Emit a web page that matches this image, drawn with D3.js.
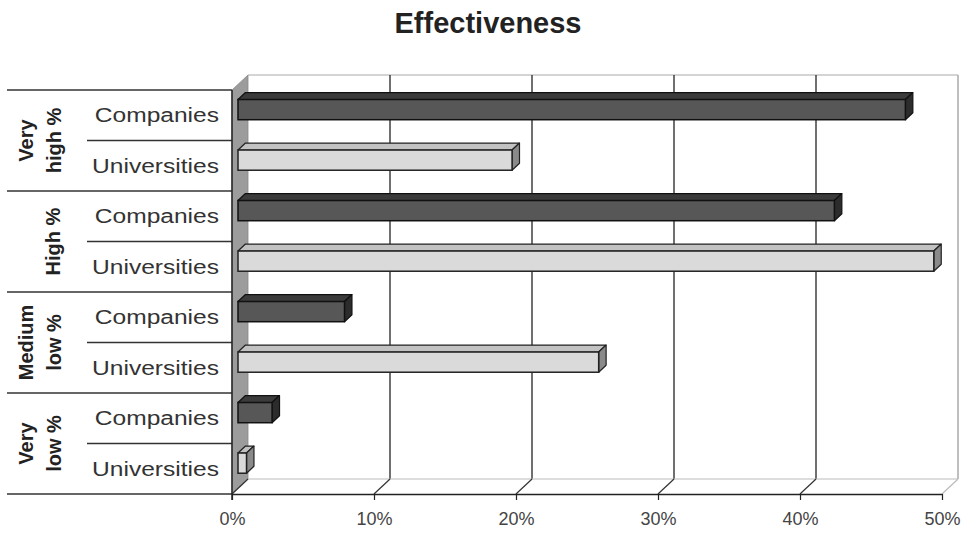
<!DOCTYPE html>
<html><head><meta charset="utf-8">
<script src="https://cdn.jsdelivr.net/npm/d3@7"></script>
<style>
html,body{margin:0;padding:0;background:#fff;}
svg{display:block;font-family:"Liberation Sans",Arial,sans-serif;}
</style></head>
<body>
<svg id="chart" width="965" height="533"></svg>
<script>
// ---- data ----
const title = "Effectiveness";
const groupLabels = [["Very", "high %"], ["High %"], ["Medium", "low %"], ["Very", "low %"]];
const subCategories = ["Companies", "Universities"];
const companies = [47, 42, 7.5, 2.4];
const universities = [19.3, 49, 25.4, 0.6];
const tickValues = [0, 10, 20, 30, 40, 50];
const tickLabels = ["0%", "10%", "20%", "30%", "40%", "50%"];

// ---- layout ----
const svg = d3.select("#chart");
const X0 = 232, X1 = 942, YT = 90, YB = 494;
const DX = 16, DY = -15;           // 3D depth offset
const F0 = 0.375, F1 = 0.84;       // bar depth position (fractions)

const x = d3.scaleLinear().domain([0, 50]).range([X0, X1]);
const rows = [];
groupLabels.forEach((g, gi) => subCategories.forEach((s, si) => rows.push({gi, si, sub: s,
  value: si === 0 ? companies[gi] : universities[gi]})));
const y = d3.scaleBand().domain(d3.range(rows.length)).range([YT, YB]).padding(0);
const gy = d3.scaleBand().domain(d3.range(groupLabels.length)).range([YT, YB]).padding(0);

const colors = {
  Companies: {front: "#575757", top: "#3b3b3b", side: "#2c2c2c", stroke: "#111"},
  Universities: {front: "#dadada", top: "#c2c2c2", side: "#8a8a8a", stroke: "#222"}
};

// title
svg.append("text").attr("x", 488).attr("y", 33).attr("text-anchor", "middle")
  .attr("font-size", 29).attr("font-weight", "bold").attr("fill", "#222").text(title);

// left wall
svg.append("polygon")
  .attr("points", [[X0, YT], [X0 + DX, YT + DY], [X0 + DX, YB + DY], [X0, YB]].map(p => p.join(",")).join(" "))
  .attr("fill", "#9c9c9c").attr("stroke", "#888").attr("stroke-width", 0.8);

// back plane top & right edges
svg.append("line").attr("x1", X0 + DX).attr("x2", X1 + DX).attr("y1", YT + DY).attr("y2", YT + DY)
  .attr("stroke", "#aaa").attr("stroke-width", 1.2);
svg.append("line").attr("x1", X1 + DX).attr("x2", X1 + DX).attr("y1", YT + DY).attr("y2", YB + DY)
  .attr("stroke", "#aaa").attr("stroke-width", 1.5);

// back gridlines
svg.append("g").selectAll("line").data(tickValues.filter(t => t > 0 && t < 50)).join("line")
  .attr("x1", d => x(d) + DX).attr("x2", d => x(d) + DX)
  .attr("y1", YT + DY).attr("y2", YB + DY)
  .attr("stroke", "#333").attr("stroke-width", 1.4);

// floor
svg.append("line").attr("x1", X0 + DX).attr("x2", X1 + DX).attr("y1", YB + DY).attr("y2", YB + DY)
  .attr("stroke", "#bbb").attr("stroke-width", 1);
svg.append("g").selectAll("line").data(tickValues).join("line")
  .attr("x1", d => x(d)).attr("y1", YB).attr("x2", d => x(d) + DX).attr("y2", YB + DY)
  .attr("stroke", d => d === 50 ? "#bbb" : "#333").attr("stroke-width", 1.2);

// category table lines
svg.append("g").selectAll("line").data(d3.range(groupLabels.length + 1)).join("line")
  .attr("x1", 7).attr("x2", X0)
  .attr("y1", d => d < groupLabels.length ? gy(d) : YB).attr("y2", d => d < groupLabels.length ? gy(d) : YB)
  .attr("stroke", "#333").attr("stroke-width", 1.5);
svg.append("g").selectAll("line").data(d3.range(groupLabels.length)).join("line")
  .attr("x1", 87).attr("x2", X0)
  .attr("y1", d => gy(d) + gy.bandwidth() / 2).attr("y2", d => gy(d) + gy.bandwidth() / 2)
  .attr("stroke", "#333").attr("stroke-width", 1.5);

// sub-category labels
svg.append("g").selectAll("text").data(rows).join("text")
  .attr("transform", (d, i) => `translate(219,${y(i) + y.bandwidth() / 2 + 7}) scale(1.17,1)`)
  .attr("text-anchor", "end").attr("font-size", 21).attr("fill", "#333")
  .text(d => d.sub);

// group labels (rotated)
const gl = svg.append("g").selectAll("g").data(groupLabels).join("g")
  .attr("transform", (d, i) => `translate(0,${gy(i) + gy.bandwidth() / 2})`);
gl.each(function (lines) {
  const g = d3.select(this);
  const bx = lines.length === 2 ? [33, 61] : [60];
  lines.forEach((t, k) => {
    g.append("text").attr("transform", `translate(${bx[k]},0) rotate(-90)`)
      .attr("text-anchor", "middle").attr("font-size", 20).attr("font-weight", "bold")
      .attr("fill", "#222").text(t);
  });
});

// bars (3D boxes)
const bars = svg.append("g").selectAll("g").data(rows).join("g");
const barH = y.bandwidth() * 0.4;
bars.each(function (d, i) {
  const g = d3.select(this);
  const c = colors[d.sub];
  const ox = F0 * DX, oy = F0 * DY;
  const bx = (F1 - F0) * DX, by = (F1 - F0) * DY;
  const xl = x(0) + ox, xr = x(d.value) + ox;
  const yt = y(i) + y.bandwidth() / 2 - barH / 2 + oy, yb = yt + barH;
  const pts = a => a.map(p => p.join(",")).join(" ");
  g.append("polygon").attr("points", pts([[xl, yt], [xl + bx, yt + by], [xr + bx, yt + by], [xr, yt]]))
    .attr("fill", c.top).attr("stroke", c.stroke).attr("stroke-width", 1.2).attr("stroke-linejoin", "round");
  g.append("polygon").attr("points", pts([[xr, yt], [xr + bx, yt + by], [xr + bx, yb + by], [xr, yb]]))
    .attr("fill", c.side).attr("stroke", c.stroke).attr("stroke-width", 1.2).attr("stroke-linejoin", "round");
  g.append("rect").attr("x", xl).attr("y", yt).attr("width", xr - xl).attr("height", barH)
    .attr("fill", c.front).attr("stroke", c.stroke).attr("stroke-width", 1.5);
});

// vertical axis line (front edge of wall)
svg.append("line").attr("x1", X0).attr("x2", X0).attr("y1", YT).attr("y2", YB + 6)
  .attr("stroke", "#222").attr("stroke-width", 1.5);

// bottom axis
const axis = d3.axisBottom(x).tickValues(tickValues).tickFormat((d, i) => tickLabels[i])
  .tickSize(6).tickSizeOuter(0).tickPadding(12);
const ax = svg.append("g").attr("transform", `translate(0,${YB})`).call(axis);
ax.select(".domain").attr("stroke", "#222").attr("stroke-width", 1.5);
ax.selectAll(".tick line").attr("stroke", "#222").attr("stroke-width", 1.2);
ax.selectAll(".tick text").attr("font-size", 18).attr("fill", "#444")
  .attr("font-family", "'Liberation Sans',Arial,sans-serif");
</script>
</body></html>
